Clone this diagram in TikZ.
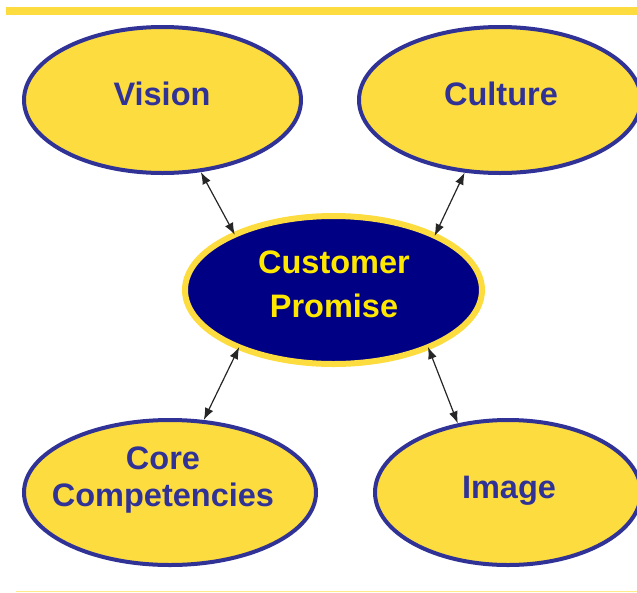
\documentclass[tikz,border=0pt]{standalone}
\usepackage{fontspec}
\setmainfont{Liberation Sans}
\usetikzlibrary{shapes.geometric}
\usetikzlibrary{arrows.meta}

\definecolor{petal}{RGB}{253,220,64}
\definecolor{rim}{RGB}{48,50,150}
\definecolor{navyfill}{RGB}{0,0,132}
\definecolor{brightyellow}{RGB}{255,232,0}

\tikzset{
  outer/.style={ellipse, draw=rim, line width=4pt, fill=petal, inner sep=0pt},
  hub/.style={ellipse, draw=petal, line width=6pt, fill=navyfill, inner sep=0pt},
  outerlabel/.style={text=rim, font=\bfseries\fontsize{32.5}{37}\selectfont, align=center},
  hublabel/.style={text=brightyellow, font=\bfseries\fontsize{32.5}{44}\selectfont, align=center},
  link/.style={<->, >={Latex[length=12pt,width=9pt]}, line width=1.2pt, draw=black!85},
}

\begin{document}
\begin{tikzpicture}[x=1pt,y=-1pt]
\useasboundingbox (0,0) rectangle (637,592);
% header bar and footer rule
\fill[petal] (6,7) rectangle (637,15);
\draw[petal!60, line width=1pt] (16,591) -- (637,591);

\node[outer, minimum width=277pt, minimum height=146pt] (vision) at (162.5,100) {};
\node[outer, minimum width=282pt, minimum height=146pt] (culture) at (500,100) {};
\node[hub, minimum width=297pt, minimum height=148pt] (promise) at (333.5,290) {};
\node[outer, minimum width=292pt, minimum height=145pt] (core) at (170,492.5) {};
\node[outer, minimum width=266pt, minimum height=145pt] (image) at (508,492.5) {};

\node[outerlabel, anchor=base] (visionlabel) at (162,105) {Vision};
\node[outerlabel, anchor=base] (culturelabel) at (501,105) {Culture};
\node[hublabel] (promiselabel) at (334,284) {Customer\\Promise};
\node[outerlabel] (corelabel) at (163,480.5) {Core\\Competencies};
\node[outerlabel, anchor=base] (imagelabel) at (509,498) {Image};

\draw[link, shorten >=-3pt] (vision.-62) -- (promise.150);
\draw[link, shorten >=-3pt] (culture.-116) -- (promise.29);
\draw[link, shorten <=-3pt] (promise.-148) -- (core.65);
\draw[link, shorten <=-3pt] (promise.-32) -- (image.126);
\end{tikzpicture}
\end{document}
